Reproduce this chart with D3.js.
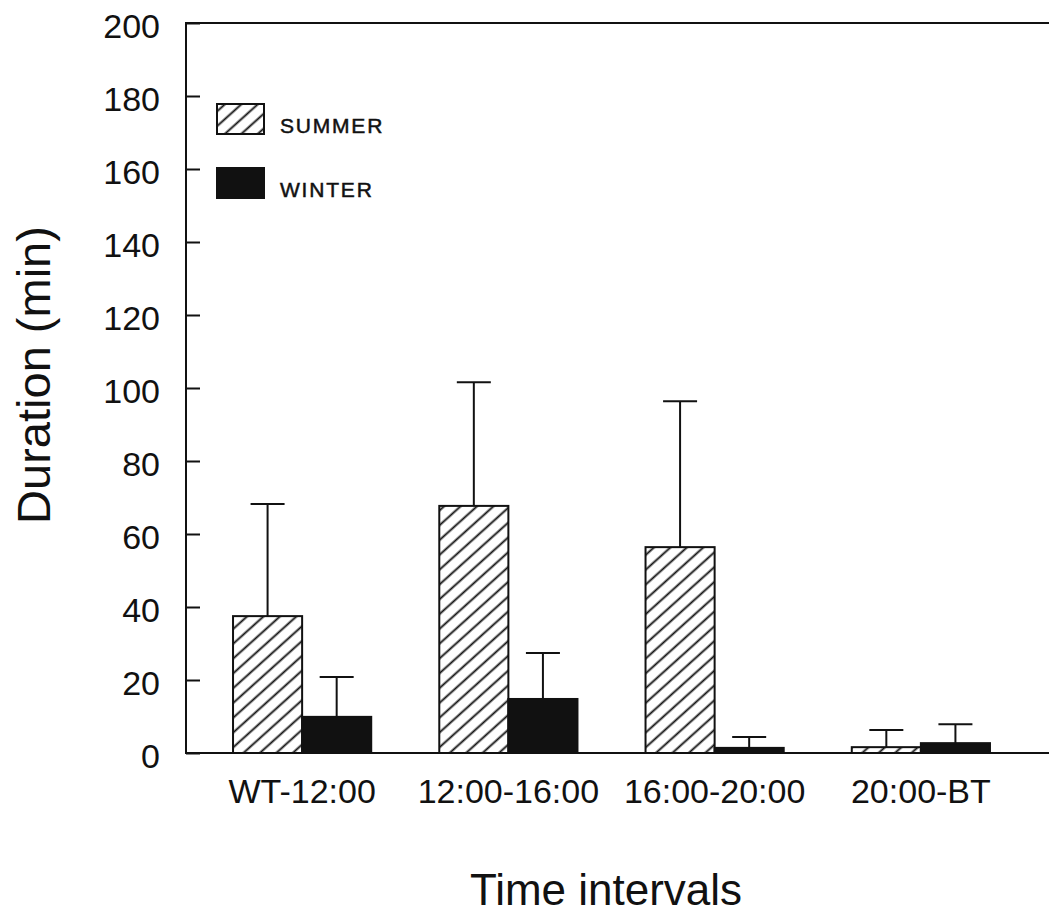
<!DOCTYPE html>
<html>
<head>
<meta charset="utf-8">
<script src="https://cdn.jsdelivr.net/npm/d3@7"></script>
<style>
  html, body { margin: 0; padding: 0; background: #fff; }
  svg { display: block; font-family: "Liberation Sans", Arial, Helvetica, sans-serif; }
</style>
</head>
<body>
<svg id="chart" width="1049" height="915"></svg>
<script>
const categories = ["WT-12:00", "12:00-16:00", "16:00-20:00", "20:00-BT"];
const seriesNames = ["SUMMER", "WINTER"];
const summerMean = [37.5, 67.7, 56.4, 1.6];
const summerErr  = [30.7, 33.9, 40.0, 4.7];
const winterMean = [9.9, 14.8, 1.4, 2.7];
const winterErr  = [10.9, 12.6, 3.0, 5.2];
const yTicks = [0, 20, 40, 60, 80, 100, 120, 140, 160, 180, 200];

const svg = d3.select("#chart");
const W = 1049;

const y = d3.scaleLinear().domain([0, 200]).range([753, 23]);
const x0 = d3.scaleBand().domain(categories).range([199, 1024])
  .paddingInner(0.33).paddingOuter(0.165);
const x1 = d3.scaleBand().domain(seriesNames).range([0, x0.bandwidth()]);

const defs = svg.append("defs");
const pat = defs.append("pattern")
  .attr("id", "hatch")
  .attr("patternUnits", "userSpaceOnUse")
  .attr("width", 11).attr("height", 11)
  .attr("patternTransform", "rotate(-42)");
pat.append("rect").attr("width", 11).attr("height", 11).attr("fill", "#fff");
pat.append("line").attr("x1", 0).attr("x2", 11).attr("y1", 5.5).attr("y2", 5.5)
  .attr("stroke", "#111").attr("stroke-width", 1.9);

const data = categories.map((c, i) => ({
  cat: c,
  vals: [
    { s: "SUMMER", m: summerMean[i], e: summerErr[i] },
    { s: "WINTER", m: winterMean[i], e: winterErr[i] }
  ]
}));

const fillFor = s => s === "SUMMER" ? "url(#hatch)" : "#111";

const groups = svg.append("g").selectAll("g").data(data).join("g")
  .attr("transform", d => `translate(${x0(d.cat)},0)`);

groups.selectAll("g.err").data(d => d.vals).join("g").attr("class", "err")
  .each(function(d) {
    const g = d3.select(this);
    const cx = x1(d.s) + x1.bandwidth() / 2;
    g.append("line").attr("x1", cx).attr("x2", cx)
      .attr("y1", y(d.m)).attr("y2", y(d.m + d.e))
      .attr("stroke", "#111").attr("stroke-width", 2);
    g.append("line").attr("x1", cx - 17).attr("x2", cx + 17)
      .attr("y1", y(d.m + d.e)).attr("y2", y(d.m + d.e))
      .attr("stroke", "#111").attr("stroke-width", 2);
  });

groups.selectAll("rect").data(d => d.vals).join("rect")
  .attr("x", d => x1(d.s))
  .attr("width", x1.bandwidth())
  .attr("y", d => y(d.m))
  .attr("height", d => y(0) - y(d.m))
  .attr("fill", d => fillFor(d.s))
  .attr("stroke", "#111").attr("stroke-width", 2);

const yAxis = d3.axisLeft(y).tickValues(yTicks).tickSize(-14).tickSizeOuter(0).tickPadding(26);
const gy = svg.append("g").attr("transform", "translate(186,0)").call(yAxis);
gy.select(".domain").remove();
gy.selectAll(".tick line").attr("stroke", "#111").attr("stroke-width", 2);
gy.selectAll(".tick text").attr("font-size", 34).attr("fill", "#111").attr("dy", "0.42em")
  .attr("font-family", "Liberation Sans, Arial, sans-serif");
svg.append("line").attr("x1", 186).attr("x2", 186).attr("y1", y(200)).attr("y2", y(0))
  .attr("stroke", "#111").attr("stroke-width", 2);
svg.append("line").attr("x1", 185).attr("x2", W).attr("y1", y(200)).attr("y2", y(200))
  .attr("stroke", "#111").attr("stroke-width", 2);

const xAxis = d3.axisBottom(x0).tickSize(0).tickPadding(26);
const gx = svg.append("g").attr("transform", `translate(0,${y(0)})`).call(xAxis);
gx.select(".domain").remove();
gx.selectAll(".tick text").attr("font-size", 34).attr("fill", "#111")
  .attr("font-family", "Liberation Sans, Arial, sans-serif");
svg.append("line").attr("x1", 185).attr("x2", W).attr("y1", y(0)).attr("y2", y(0))
  .attr("stroke", "#111").attr("stroke-width", 2);

svg.append("text").attr("x", 606).attr("y", 905).attr("text-anchor", "middle")
  .attr("font-size", 44).attr("fill", "#111").text("Time intervals");
svg.append("text").attr("transform", "translate(50,375) rotate(-90)")
  .attr("text-anchor", "middle").attr("font-size", 47).attr("fill", "#111")
  .text("Duration (min)");

const legend = svg.append("g").selectAll("g").data(seriesNames).join("g")
  .attr("transform", (d, i) => `translate(217,${104 + i * 64})`);
legend.append("rect").attr("width", 47).attr("height", 30)
  .attr("fill", d => fillFor(d)).attr("stroke", "#111").attr("stroke-width", 2);
legend.append("text").attr("x", 63).attr("y", 29)
  .attr("font-size", 21).attr("letter-spacing", 1.8).attr("fill", "#111")
  .attr("stroke", "#111").attr("stroke-width", 0.5)
  .text(d => d);
</script>
</body>
</html>
